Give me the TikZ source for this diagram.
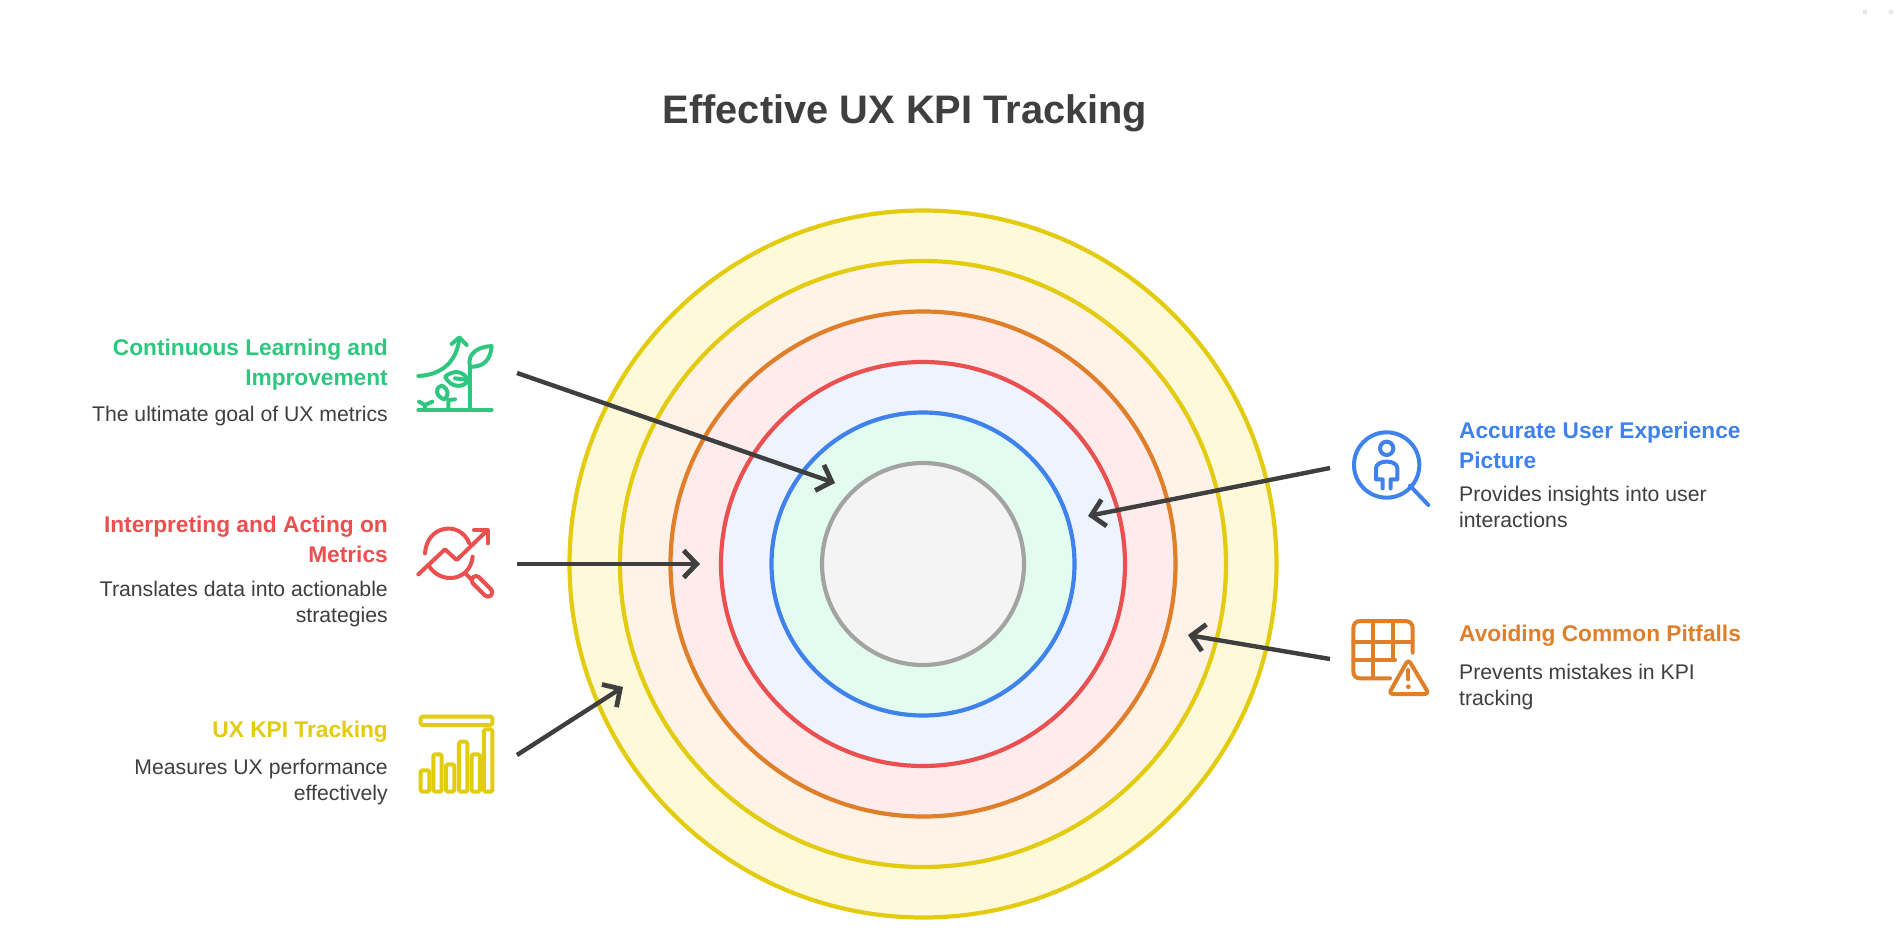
\documentclass[tikz,border=0pt]{standalone}
\usepackage{fontspec}
\setmainfont{Liberation Sans}
\usetikzlibrary{arrows.meta}
\definecolor{cgreen}{HTML}{2FC77F}
\definecolor{cred}{HTML}{E9504F}
\definecolor{cyel}{HTML}{E3CB10}
\definecolor{cblue}{HTML}{3F82EC}
\definecolor{corg}{HTML}{E07F2A}
\definecolor{cink}{HTML}{3F3F3F}
\definecolor{fyel}{HTML}{FEFAD9}
\definecolor{forg}{HTML}{FEF3E6}
\definecolor{fred}{HTML}{FEECEC}
\definecolor{fblue}{HTML}{EEF4FF}
\definecolor{fgreen}{HTML}{E3FCF0}
\definecolor{fgray}{HTML}{F4F4F4}
\definecolor{cgray}{HTML}{A3A3A3}
\tikzset{
  ring/.style={draw=#1,line width=4.2pt},
  arrowline/.style={draw=cink,line width=4.4pt,-{Straight Barb[length=13pt,width=27pt,line width=4.8pt]}},
  ttl/.style={inner sep=0pt,font=\fontsize{39.8}{46}\selectfont\bfseries,text=cink},
  headl/.style={inner sep=0pt,align=right,anchor=north east,font=\fontsize{22.7}{30}\selectfont\bfseries,text=#1},
  headr/.style={inner sep=0pt,align=left,anchor=north west,font=\fontsize{22.7}{30}\selectfont\bfseries,text=#1},
  descl/.style={inner sep=0pt,align=right,anchor=north east,font=\fontsize{21.2}{26}\selectfont,text=cink},
  descr/.style={inner sep=0pt,align=left,anchor=north west,font=\fontsize{21.2}{26}\selectfont,text=cink},
  icon/.style={x=0.3333pt,y=-0.3333pt,line width=4pt,line cap=round,line join=round,draw=#1},
  speck/.style={circle,fill=black!9,inner sep=0pt,minimum size=5pt},
}
\begin{document}
\begin{tikzpicture}[x=1pt,y=-1pt]
\useasboundingbox (0,0) rectangle (1903,938);
\fill[white] (0,0) rectangle (1903,938);
\node[speck] (s1) at (1865,12) {};
\node[speck] (s2) at (1891,12) {};
\node[ttl] (title) at (905,113) {Effective UX KPI Tracking};
% rings
\coordinate (c) at (923,564);
\node[circle,minimum size=707pt,inner sep=0pt,fill=fyel,ring=cyel] (r1) at (c) {};
\node[circle,minimum size=606pt,inner sep=0pt,fill=forg,ring=cyel] (r2) at (c) {};
\node[circle,minimum size=505pt,inner sep=0pt,fill=fred,ring=corg] (r3) at (c) {};
\node[circle,minimum size=404pt,inner sep=0pt,fill=fblue,ring=cred] (r4) at (c) {};
\node[circle,minimum size=303pt,inner sep=0pt,fill=fgreen,ring=cblue] (r5) at (c) {};
\node[circle,minimum size=202pt,inner sep=0pt,fill=fgray,ring=cgray] (r6) at (c) {};
% texts left
\node[headl=cgreen] (h1) at (388,339) {Continuous Learning and\\Improvement};
\node[descl] (d1) at (388,406) {The ultimate goal of UX metrics};
\node[headl=cred] (h2) at (388,516) {Interpreting and Acting on\\Metrics};
\node[descl] (d2) at (388,581) {Translates data into actionable\\strategies};
\node[headl=cyel] (h3) at (388,721) {UX KPI Tracking};
\node[descl] (d3) at (388,759) {Measures UX performance\\effectively};
% texts right
\node[headr=cblue] (h4) at (1459,422) {Accurate User Experience\\Picture};
\node[descr] (d4) at (1459,486) {Provides insights into user\\interactions};
\node[headr=corg] (h5) at (1459,625) {Avoiding Common Pitfalls};
\node[descr] (d5) at (1459,664) {Prevents mistakes in KPI\\tracking};
% connectors
\coordinate (a1s) at (517,373); \coordinate (a1e) at (835,483);
\coordinate (a2s) at (517,564); \coordinate (a2e) at (700,564);
\coordinate (a3s) at (517,755); \coordinate (a3e) at (623,687);
\coordinate (a4s) at (1330,468); \coordinate (a4e) at (1088,516);
\coordinate (a5s) at (1330,659); \coordinate (a5e) at (1188,635);
\draw[arrowline] (a1s) -- (a1e);
\draw[arrowline] (a2s) -- (a2e);
\draw[arrowline] (a3s) -- (a3e);
\draw[arrowline] (a4s) -- (a4e);
\draw[arrowline] (a5s) -- (a5e);
% icon: green sprout
\begin{scope}[shift={(400,320)},icon=cgreen]
\draw (55,270) -- (275,270);
\draw (210,270) -- (210,140);
\draw (210,140) .. controls (200,100) and (235,80) .. (275,78) .. controls (272,120) and (250,142) .. (210,140);
\draw (205,182) .. controls (190,150) and (160,150) .. (135,170) .. controls (150,200) and (185,208) .. (205,182);
\draw (165,175) -- (205,180);
\draw (132,238) .. controls (108,228) and (102,205) .. (125,197) .. controls (145,205) and (150,225) .. (132,238);
\draw (145,270) -- (145,240) -- (165,238);
\draw (75,270) -- (75,255);
\draw (57,245) -- (75,255) -- (97,245);
\draw (55,168) .. controls (120,165) and (170,130) .. (178,55);
\draw (155,72) -- (178,52) -- (200,75);
\end{scope}
% icon: red magnifier
\begin{scope}[shift={(400,515)},icon=cred]
\draw (75,115) .. controls (80,30) and (180,15) .. (208,85);
\draw (85,150) .. controls (120,210) and (210,200) .. (218,125);
\draw (55,178) -- (135,103) -- (170,135) -- (260,48);
\draw (222,45) -- (263,45) -- (263,85);
\draw (198,177) -- (213,192);
\draw[rotate around={-45:(246,214)},rounded corners=4pt] (208,201) rectangle (284,227);
\end{scope}
% icon: yellow bars
\begin{scope}[shift={(400,705)},icon=cyel,rounded corners=1.5pt]
\draw (62,35) rectangle (277,60);
\draw (62,196) rectangle (88,260);
\draw (100,148) rectangle (125,260);
\draw (138,178) rectangle (163,260);
\draw (177,110) rectangle (202,260);
\draw (215,148) rectangle (240,260);
\draw (252,73) rectangle (277,260);
\end{scope}
% icon: blue user
\begin{scope}[shift={(1340,420)},icon=cblue]
\draw (140,135) circle[radius=98];
\draw (210,197) -- (265,255);
\draw (140,85) circle[radius=20];
\draw (128,205) -- (128,178) -- (108,178) -- (108,145) .. controls (108,118) and (172,118) .. (172,145) -- (172,178) -- (152,178) -- (152,205);
\end{scope}
% icon: orange table
\begin{scope}[shift={(1340,610)},icon=corg]
\draw (150,205) -- (60,205) .. controls (48,205) and (40,197) .. (40,185) -- (40,55) .. controls (40,42) and (48,33) .. (60,33) -- (195,33) .. controls (210,33) and (218,42) .. (218,55) -- (218,128);
\draw (40,95) -- (218,95);
\draw (40,150) -- (165,150);
\draw (100,33) -- (100,205);
\draw (160,33) -- (160,150);
\draw[rounded corners=4pt] (205,148) -- (267,252) -- (146,252) -- cycle;
\draw (205,180) -- (205,208);
\fill[corg] (205,230) circle[radius=2.4pt];
\end{scope}
\end{tikzpicture}
\end{document}
